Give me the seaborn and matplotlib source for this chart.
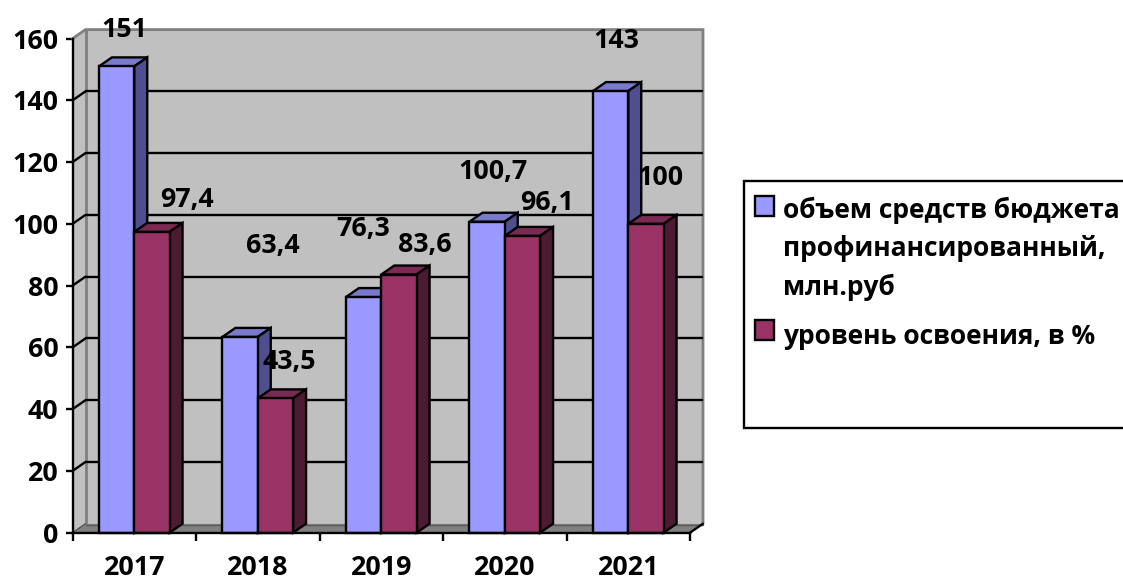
import pandas as pd
import matplotlib
matplotlib.use('Agg')
import matplotlib.pyplot as plt
from matplotlib.patches import Polygon, Rectangle
import seaborn as sns

# Data
years = ['2017', '2018', '2019', '2020', '2021']
budget = [151, 63.4, 76.3, 100.7, 143]
mastery = [97.4, 43.5, 83.6, 96.1, 100]
budget_name = 'объем средств бюджета\nпрофинансированный,\nмлн.руб'
mastery_name = 'уровень освоения, в %'

# Label offsets from the top of each bar, in pixels (the labels sit oddly in the original)
budget_offsets = [(8, 36.5), (33, 90.5), (0, 68.5), (6, 49.5), (6, 50.5)]
mastery_offsets = [(35, 31.5), (14, 36.5), (26, 29.5), (25, 32.5), (15, 45.5)]

W, H = 1123, 582
sns.set_theme(style='white')
plt.rcParams['font.family'] = ['Open Sans', 'Noto Sans', 'DejaVu Sans']
plt.rcParams['font.weight'] = 'bold'
FS = 19.3
FS_LEGEND = 19
LW = 1.7

fig = plt.figure(figsize=(W / 100, H / 100), dpi=100, facecolor='white')
left, right, top, bottom = 72.5, 690, 38.6, 532.7
ax = fig.add_axes([left / W, 1 - bottom / H, (right - left) / W, (bottom - top) / H])

df = pd.DataFrame({
    'year': years * 2,
    'value': budget + mastery,
    'series': [budget_name] * 5 + [mastery_name] * 5,
})
sns.barplot(data=df, x='year', y='value', hue='series', hue_order=[budget_name, mastery_name],
            palette=['#9999FF', '#993366'], saturation=1, width=0.572, gap=0,
            edgecolor='black', linewidth=LW, legend=False, ax=ax)
ax.set_xlim(-0.5, 4.5)
ax.set_ylim(0, 160)
ax.set_xlabel('')
ax.set_ylabel('')
ax.patch.set_visible(False)

# depth of the fake 3D, converted from pixels to data units
dx = 13 / ((right - left) / 5)
dy = 9 / ((bottom - top) / 160)
x0, x1 = -0.5, 4.5

# walls and floor
ax.add_patch(Polygon([(x0, 0), (x0 + dx, dy), (x1 + dx, dy), (x1 + dx, 160 + dy), (x0 + dx, 160 + dy),
                      (x0, 160)], closed=True, fc='#C0C0C0', ec='none', clip_on=False, zorder=0))
ax.add_patch(Polygon([(x0, 0), (x0 + dx, dy), (x1 + dx, dy), (x1, 0)], closed=True,
                     fc='#808080', ec='none', clip_on=False, zorder=0.5))
ax.plot([x0, x0 + dx, x1 + dx, x1 + dx], [160, 160 + dy, 160 + dy, dy], color='#808080', lw=2,
        clip_on=False, zorder=0.6, solid_joinstyle='miter')
ax.plot([x0 + dx, x0 + dx], [dy, 160 + dy], color='#808080', lw=2, clip_on=False, zorder=0.6)
ax.plot([x0 + dx, x1 + dx], [dy * 0.85, dy * 0.85], color='#5A5A5A', lw=1, clip_on=False, zorder=0.7)
ax.plot([x1, x1 + dx], [0, dy], color='black', lw=LW, clip_on=False, zorder=0.8)

# gridlines on the back wall and their slanted links to the axis
for v in range(20, 160, 20):
    ax.plot([x0 + dx, x1 + dx - 0.01], [v + dy, v + dy], color='black', lw=LW, clip_on=False, zorder=1)
    ax.plot([x0, x0 + dx], [v, v + dy], color='black', lw=LW, clip_on=False, zorder=1)
ax.plot([x0, x0 + dx], [0, dy], color='#555555', lw=1, clip_on=False, zorder=1)

shades = [('#7A7ACC', '#4F4F8F'), ('#7A2952', '#4D1A33')]
for s, container in enumerate(ax.containers):
    top_col, side_col = shades[s]
    for i, bar in enumerate(container):
        xa, w, h = bar.get_x(), bar.get_width(), bar.get_height()
        z = 2 + i * 2 + s * 0.5
        ax.add_patch(Polygon([(xa, h), (xa + dx, h + dy), (xa + w + dx, h + dy), (xa + w, h)], closed=True,
                             fc=top_col, ec='black', lw=LW, clip_on=False, zorder=z))
        ax.add_patch(Polygon([(xa + w, 0), (xa + w + dx, dy), (xa + w + dx, h + dy), (xa + w, h)], closed=True,
                             fc=side_col, ec='black', lw=LW, clip_on=False, zorder=z))
        bar.set_zorder(z + 0.1)
        bar.set_clip_on(False)

# value labels
for container, values, offsets in zip(ax.containers, [budget, mastery], [budget_offsets, mastery_offsets]):
    for bar, v, off in zip(container, values, offsets):
        ax.annotate(f'{v:g}'.replace('.', ','), (bar.get_x() + bar.get_width() / 2, bar.get_height()),
                    xytext=(off[0] * 0.72, off[1] * 0.72), textcoords='offset points',
                    ha='center', va='center', fontsize=FS, fontweight='bold', color='black',
                    annotation_clip=False, zorder=30)

# axes
sns.despine(ax=ax)
for side in ['left', 'bottom']:
    ax.spines[side].set_linewidth(LW)
    ax.spines[side].set_color('black')
    ax.spines[side].set_zorder(25)
ax.set_yticks(range(0, 161, 20))
ax.tick_params(axis='y', length=5, width=LW, color='black', left=True, pad=5, labelsize=FS, labelcolor='black')
ax.tick_params(axis='x', which='major', length=0, pad=16, labelsize=FS, labelcolor='black')
ax.set_xticks([x0 + i for i in range(6)], minor=True)
ax.tick_params(axis='x', which='minor', length=6, width=LW, color='black', bottom=True)
for t in ax.get_xticklabels() + ax.get_yticklabels():
    t.set_fontweight('bold')

# legend box, it runs off the right edge in the original
fig.add_artist(Rectangle((744 / W, 1 - 428 / H), 400 / W, 247 / H, transform=fig.transFigure,
                         fc='white', ec='black', lw=LW, clip_on=False))
for y, col in [(196, '#9999FF'), (320, '#993366')]:
    fig.add_artist(Rectangle((754.5 / W, 1 - (y + 20) / H), 19.5 / W, 20 / H, transform=fig.transFigure,
                             fc=col, ec='black', lw=LW))
legend_lines = budget_name.split('\n') + [mastery_name]
for y, line in zip([210, 248, 287, 336], legend_lines):
    fig.text(783 / W, 1 - y / H, line, fontsize=FS_LEGEND, fontweight='bold', color='black', ha='left', va='center')

fig.savefig('out.png', dpi=100, facecolor='white')
